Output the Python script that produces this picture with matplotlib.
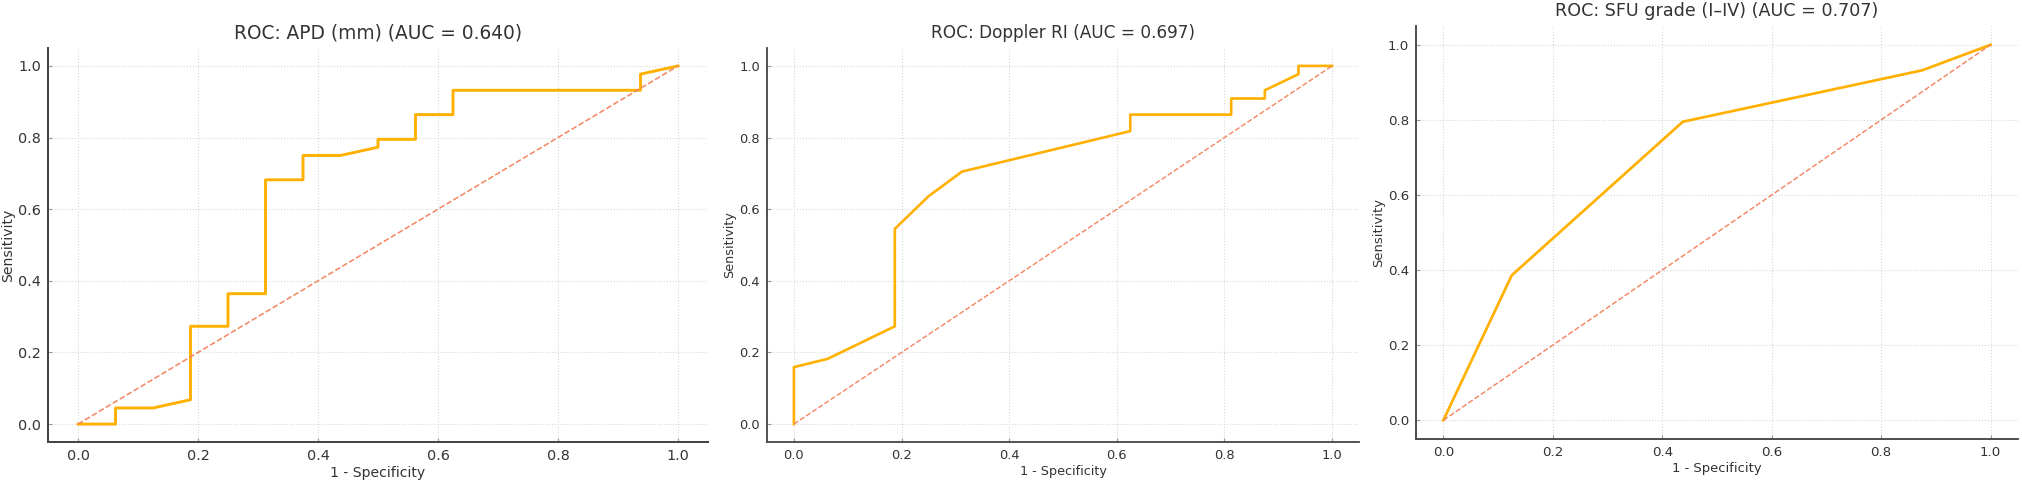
import matplotlib
matplotlib.use('Agg')
import matplotlib.pyplot as plt

# ROC points
apd_fpr = [0, 0.0625, 0.0625, 0.125, 0.1875, 0.1875, 0.25, 0.25, 0.3125, 0.3125, 0.375,
           0.375, 0.4375, 0.5, 0.5, 0.5625, 0.5625, 0.625, 0.625, 0.9375, 0.9375, 1.0]
apd_tpr = [0, 0, 0.045, 0.045, 0.068, 0.273, 0.273, 0.364, 0.364, 0.682, 0.682,
           0.75, 0.75, 0.773, 0.795, 0.795, 0.864, 0.864, 0.932, 0.932, 0.977, 1.0]

ri_fpr = [0, 0, 0.0625, 0.1875, 0.1875, 0.25, 0.3125, 0.625, 0.625, 0.8125, 0.8125,
          0.875, 0.875, 0.9375, 0.9375, 1.0]
ri_tpr = [0, 0.159, 0.182, 0.273, 0.545, 0.636, 0.705, 0.818, 0.864, 0.864, 0.909,
          0.909, 0.932, 0.977, 1.0, 1.0]

sfu_fpr = [0, 0.125, 0.4375, 0.875, 1.0]
sfu_tpr = [0, 0.386, 0.795, 0.932, 1.0]

titles = ['ROC: APD (mm) (AUC = 0.640)',
          'ROC: Doppler RI (AUC = 0.697)',
          'ROC: SFU grade (I–IV) (AUC = 0.707)']
curves = [(apd_fpr, apd_tpr), (ri_fpr, ri_tpr), (sfu_fpr, sfu_tpr)]

W, H = 2022, 484
# axes boxes in pixels: left, top, right, bottom
boxes = [(48, 48, 708, 442), (767, 48, 1359, 442), (1416, 26, 2018, 439)]
scales = [1.1, 1.0, 1.03]

fig = plt.figure(figsize=(W / 100, H / 100), dpi=100)

for (l, t, r, b), title, (fpr, tpr), s in zip(boxes, titles, curves, scales):
    ax = fig.add_axes([l / W, 1 - b / H, (r - l) / W, (b - t) / H])
    ax.plot(fpr, tpr, color='#FFB000', lw=1.9 * s)
    ax.plot([0, 1], [0, 1], color='#F4845F', lw=1.0 * s, ls='--')
    ax.set_xlim(-0.05, 1.05)
    ax.set_ylim(-0.05, 1.05)
    ax.set_xticks([0, 0.2, 0.4, 0.6, 0.8, 1.0])
    ax.set_yticks([0, 0.2, 0.4, 0.6, 0.8, 1.0])
    ax.grid(True, color='#d8d8d8', ls=':', lw=0.8)
    for side in ['top', 'right']:
        ax.spines[side].set_visible(False)
    for side in ['left', 'bottom']:
        ax.spines[side].set_color('#444444')
        ax.spines[side].set_linewidth(1.3 * s)
    ax.tick_params(direction='in', length=3, color='#999999', labelcolor='#333333',
                   labelsize=9.4 * s, pad=5)
    ax.set_title(title, fontsize=12.2 * s, color='#333333', pad=7)
    ax.set_xlabel('1 - Specificity', fontsize=9.2 * s, color='#333333', labelpad=2)
    ax.set_ylabel('Sensitivity', fontsize=9.2 * s, color='#333333', labelpad=2)

fig.savefig('out.png', dpi=100)
